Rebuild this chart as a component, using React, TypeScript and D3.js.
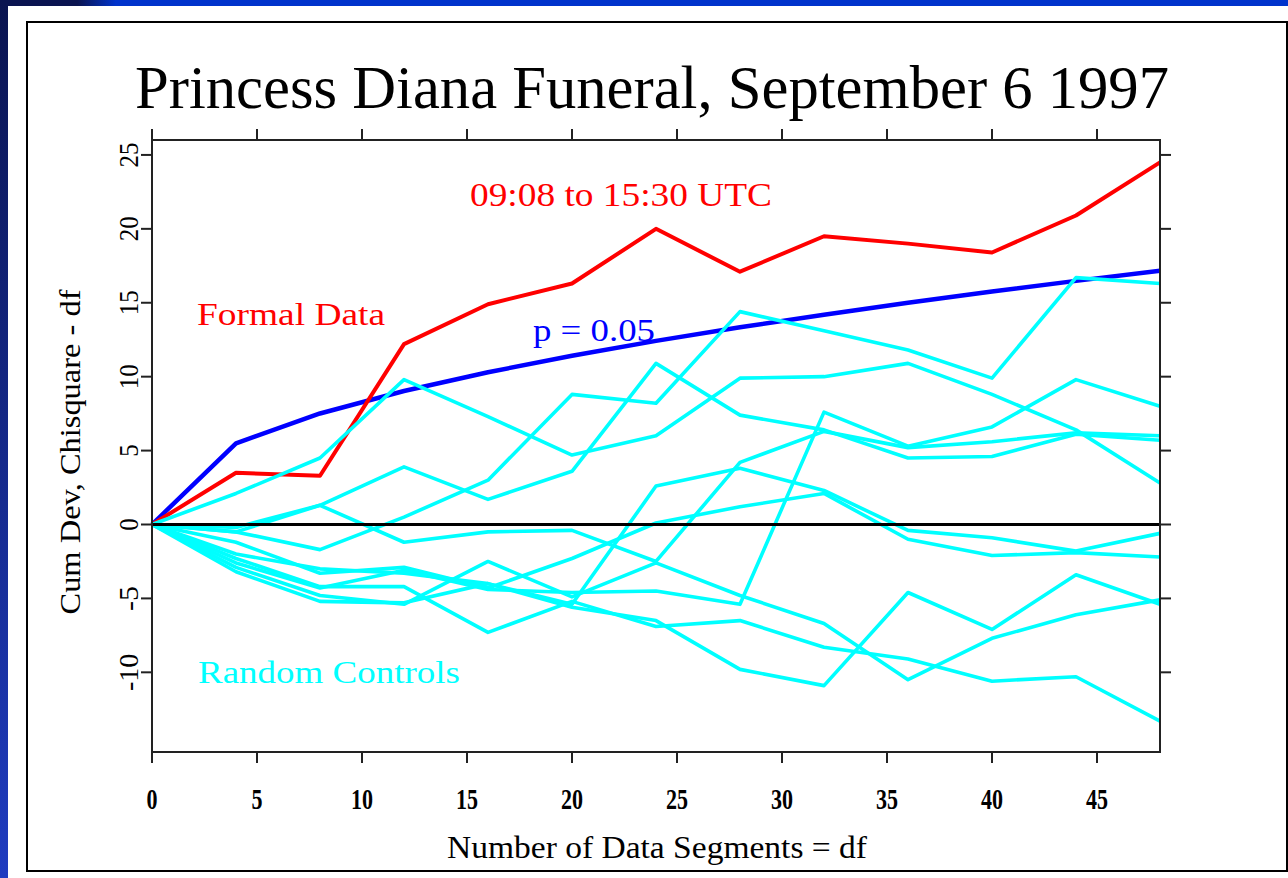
import React from "react";
import * as d3 from "d3";

const TITLE = "Princess Diana Funeral, September 6 1997";
const X_LABEL = "Number of Data Segments = df";
const Y_LABEL = "Cum Dev, Chisquare - df";

const df = [0, 4, 8, 12, 16, 20, 24, 28, 32, 36, 40, 44, 48];
const formalData = [0, 3.5, 3.3, 12.2, 14.9, 16.3, 20.0, 17.1, 19.5, 19.0, 18.4, 20.9, 24.5];
const pThreshold = [0, 5.49, 7.51, 9.03, 10.3, 11.41, 12.42, 13.34, 14.19, 15.0, 15.76, 16.48, 17.17];

const controlA = [0, 2.1, 4.5, 9.8, 7.3, 4.7, 6.0, 9.9, 10.0, 10.9, 8.8, 6.4, 2.8];
const controlB = [0, -0.2, 1.3, 3.9, 1.7, 3.6, 10.9, 7.4, 6.4, 4.5, 4.6, 6.1, 5.7];
const controlC = [0, -0.5, -1.7, 0.5, 3.0, 8.8, 8.2, 14.4, 13.1, 11.8, 9.9, 16.7, 16.3];
const controlD = [0, -0.5, 1.3, -1.2, -0.5, -0.4, -2.5, 4.2, 6.3, 5.2, 5.6, 6.2, 6.0];
const controlE = [0, -2.0, -3.0, -3.3, -4.0, -5.4, 2.6, 3.8, 2.3, -0.4, -0.9, -1.8, -0.6];
const controlF = [0, -1.2, -3.3, -2.9, -4.3, -2.3, 0.1, 1.2, 2.1, -1.0, -2.1, -1.9, -2.2];
const controlG = [0, -2.6, -4.3, -3.1, -4.4, -4.6, -4.5, -5.4, 7.6, 5.3, 6.6, 9.8, 8.0];
const controlH = [0, -2.9, -4.8, -5.4, -2.5, -4.9, -2.6, -4.8, -6.7, -10.5, -7.7, -6.1, -5.1];
const controlI = [0, -3.2, -5.2, -5.3, -4.0, -5.6, -6.5, -9.8, -10.9, -4.6, -7.1, -3.4, -5.4];
const controlJ = [0, -2.3, -4.2, -4.2, -7.3, -5.2, -6.9, -6.5, -8.3, -9.1, -10.6, -10.3, -13.3];
const controls = [controlA, controlB, controlC, controlD, controlE, controlF, controlG, controlH, controlI, controlJ];

const xTicks = [0, 5, 10, 15, 20, 25, 30, 35, 40, 45];
const yTicks = [-10, -5, 0, 5, 10, 15, 20, 25];

const SERIF = "'Liberation Serif', 'Times New Roman', serif";

export default function App() {
  const W = 1288, H = 878;
  const L = 152, R = 1160, T = 140, B = 752;
  const x = d3.scaleLinear().domain([0, 48]).range([L, R]);
  const y = d3.scaleLinear().domain([-15.39, 26.01]).range([B, T]);
  const line = d3.line<number>().x((_, i) => x(df[i])).y((v) => y(v));

  return (
    <div style={{ position: "absolute", left: 0, top: 0 }}>
      <svg width={W} height={H} style={{ display: "block" }}>
        <defs>
          <linearGradient id="topband" x1="0" x2="1" y1="0" y2="0">
            <stop offset="0" stopColor="#0a1450" />
            <stop offset="0.06" stopColor="#0a1450" />
            <stop offset="0.09" stopColor="#0033cc" />
            <stop offset="1" stopColor="#0033cc" />
          </linearGradient>
          <linearGradient id="leftband" x1="0" x2="0" y1="0" y2="1">
            <stop offset="0" stopColor="#0a1450" />
            <stop offset="1" stopColor="#1f3cc0" />
          </linearGradient>
        </defs>
        <rect x={0} y={0} width={W} height={H} fill="#ffffff" />
        <rect x={0} y={0} width={W} height={6} fill="url(#topband)" />
        <rect x={0} y={0} width={8} height={H} fill="url(#leftband)" />
        <rect x={27} y={22} width={1260} height={849} fill="none" stroke="#000" strokeWidth={2} />

        <text x={652} y={108} textAnchor="middle" fontFamily={SERIF} fontSize={61}
          textLength={1034} lengthAdjust="spacingAndGlyphs" fill="#000">
          {TITLE}
        </text>

        {/* series */}
        <path d={line(pThreshold) || ""} fill="none" stroke="#0000ff" strokeWidth={4.5} strokeLinejoin="round" />
        <path d={line(formalData) || ""} fill="none" stroke="#ff0000" strokeWidth={4} strokeLinejoin="round" />
        {controls.map((c, i) => (
          <path key={i} d={line(c) || ""} fill="none" stroke="#00ffff" strokeWidth={3.6} strokeLinejoin="round" />
        ))}
        <line x1={L} x2={R} y1={y(0)} y2={y(0)} stroke="#000" strokeWidth={3} />

        {/* frame */}
        <rect x={L} y={T} width={R - L} height={B - T} fill="none" stroke="#222" strokeWidth={2} />
        {xTicks.map((t) => (
          <g key={"x" + t}>
            <line x1={x(t)} x2={x(t)} y1={B} y2={B + 11} stroke="#222" strokeWidth={2} />
            <line x1={x(t)} x2={x(t)} y1={T} y2={T - 11} stroke="#222" strokeWidth={2} />
            <text x={x(t)} y={809} textAnchor="middle" fontFamily={SERIF} fontSize={30} fontWeight="bold"
              textLength={String(t).length * 11} lengthAdjust="spacingAndGlyphs" fill="#000">
              {t}
            </text>
          </g>
        ))}
        {yTicks.map((t) => (
          <g key={"y" + t}>
            <line x1={L} x2={L - 11} y1={y(t)} y2={y(t)} stroke="#222" strokeWidth={2} />
            <line x1={R} x2={R + 11} y1={y(t)} y2={y(t)} stroke="#222" strokeWidth={2} />
            <text transform={`translate(138,${y(t)}) rotate(-90)`} textAnchor="middle" fontFamily={SERIF}
              fontSize={28} textLength={String(t).length * 12.5} lengthAdjust="spacingAndGlyphs" fill="#000">
              {t}
            </text>
          </g>
        ))}

        <text x={657} y={858} textAnchor="middle" fontFamily={SERIF} fontSize={31}
          textLength={420} lengthAdjust="spacingAndGlyphs" fill="#000">
          {X_LABEL}
        </text>
        <text transform="translate(80,452) rotate(-90)" textAnchor="middle" fontFamily={SERIF} fontSize={30}
          textLength={325} lengthAdjust="spacingAndGlyphs" fill="#000">
          {Y_LABEL}
        </text>

        {/* annotations */}
        <text x={470} y={206} fontFamily={SERIF} fontSize={33} textLength={302} lengthAdjust="spacingAndGlyphs" fill="#ff0000">
          09:08 to 15:30 UTC
        </text>
        <text x={197} y={325} fontFamily={SERIF} fontSize={32} textLength={188} lengthAdjust="spacingAndGlyphs" fill="#ff0000">
          Formal Data
        </text>
        <text x={533} y={341} fontFamily={SERIF} fontSize={31} fill="#0000ff" textLength={122} lengthAdjust="spacingAndGlyphs">
          p = 0.05
        </text>
        <text x={198} y={683} fontFamily={SERIF} fontSize={32} textLength={262} lengthAdjust="spacingAndGlyphs" fill="#00ffff">
          Random Controls
        </text>
      </svg>
    </div>
  );
}
